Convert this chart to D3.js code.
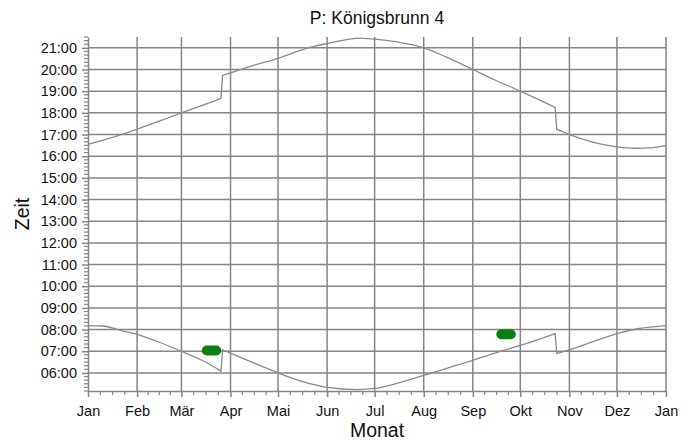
<!DOCTYPE html>
<html>
<head>
<meta charset="utf-8">
<script src="https://cdn.jsdelivr.net/npm/d3@7"></script>
<style>
  body { margin: 0; background: #fff; }
  svg { display: block; font-family: "Liberation Sans", Arial, sans-serif; }
</style>
</head>
<body>
<div id="chart"></div>
<script>
// sunset (upper curve)
const sunsetDates = ["2023-01-01","2023-01-22","2023-02-01","2023-02-15","2023-03-01","2023-03-15","2023-03-26",
                     "2023-03-27","2023-04-01","2023-04-15","2023-05-01","2023-05-20","2023-06-01","2023-06-22",
                     "2023-07-01","2023-07-16","2023-08-01","2023-08-15","2023-09-01","2023-09-15","2023-10-01",
                     "2023-10-23","2023-10-24","2023-11-01","2023-11-15","2023-12-01","2023-12-12","2023-12-22",
                     "2024-01-01"];
const sunsetTimes = ["16:33","17:00","17:15","17:37","18:00","18:22","18:40",
                     "19:44","19:51","20:11","20:31","21:00","21:12","21:27",
                     "21:24","21:16","21:00","20:35","20:00","19:31","19:00",
                     "18:15","17:14","17:00","16:40","16:26","16:22","16:23",
                     "16:29"];

// sunrise (lower curve)
const sunriseDates = ["2023-01-01","2023-01-10","2023-01-23","2023-02-01","2023-02-15","2023-03-01","2023-03-15",
                      "2023-03-26","2023-03-27","2023-04-01","2023-04-15","2023-05-01","2023-05-15","2023-06-01",
                      "2023-06-20","2023-07-01","2023-07-15","2023-08-01","2023-08-15","2023-09-01","2023-09-15",
                      "2023-10-01","2023-10-23","2023-10-24","2023-11-01","2023-11-15","2023-12-01","2023-12-15",
                      "2024-01-01"];
const sunriseTimes = ["08:11","08:10","07:56","07:47","07:25","07:00","06:33",
                      "06:05","07:04","06:55","06:29","06:00","05:38","05:20",
                      "05:14","05:17","05:31","05:53","06:12","06:35","06:55",
                      "07:16","07:49","06:54","07:04","07:25","07:49","08:03",
                      "08:11"];

// clock change days (curve jumps here)
const dstSwitch = ["2023-03-27","2023-10-24"];

// green shadow periods
const shadowStart = ["2023-03-17","2023-09-19"];
const shadowEnd   = ["2023-03-23","2023-09-25"];
const shadowTime  = ["07:02","07:47"];

const monthLabels = ["Jan","Feb","Mär","Apr","Mai","Jun","Jul","Aug","Sep","Okt","Nov","Dez","Jan"];
const hourTicks = d3.range(6, 22);

const width = 695, height = 441;
const mLeft = 88, mRight = 666, mTop = 37, mBottom = 391;

const parseDate = d3.timeParse("%Y-%m-%d");
const toHours = s => { const [h, m] = s.split(":").map(Number); return h + m / 60; };

const x = d3.scaleTime()
    .domain([parseDate("2023-01-01"), parseDate("2024-01-01")])
    .range([mLeft, mRight]);
const y = d3.scaleLinear()
    .domain([5 + 10 / 60, 21.5])
    .range([mBottom, mTop]);

const svg = d3.select("#chart").append("svg")
    .attr("width", width)
    .attr("height", height);

const gridColor = "#858585";
const months = d3.timeMonth.range(x.domain()[0], d3.timeDay.offset(x.domain()[1], 1));

// grid
svg.append("g").selectAll("line")
    .data(hourTicks)
    .enter().append("line")
    .attr("x1", mLeft).attr("x2", mRight)
    .attr("y1", d => y(d)).attr("y2", d => y(d))
    .attr("stroke", gridColor).attr("stroke-width", 1.5);

svg.append("g").selectAll("line")
    .data(months.slice(1))
    .enter().append("line")
    .attr("x1", d => x(d)).attr("x2", d => x(d))
    .attr("y1", mTop).attr("y2", mBottom)
    .attr("stroke", gridColor).attr("stroke-width", 1.5);

// minor ticks
const minorX = [];
months.slice(0, 12).forEach((m, i) => {
    const t0 = +m, t1 = +months[i + 1];
    [0.25, 0.5, 0.75].forEach(f => minorX.push(new Date(t0 + (t1 - t0) * f)));
});
svg.append("g").selectAll("line")
    .data(minorX)
    .enter().append("line")
    .attr("x1", d => x(d)).attr("x2", d => x(d))
    .attr("y1", mBottom).attr("y2", mBottom + 4)
    .attr("stroke", gridColor).attr("stroke-width", 1.2);

const minorY = d3.range(5 + 10 / 60, 21.5 + 0.01, 1 / 6).filter(v => Math.abs(v - Math.round(v)) > 0.01);
svg.append("g").selectAll("line")
    .data(minorY)
    .enter().append("line")
    .attr("x1", mLeft - 4).attr("x2", mLeft)
    .attr("y1", d => y(d)).attr("y2", d => y(d))
    .attr("stroke", gridColor).attr("stroke-width", 1.2);

// axes
const xAxis = svg.append("g")
    .attr("transform", `translate(0,${mBottom})`)
    .call(d3.axisBottom(x).tickValues(months).tickSize(6).tickSizeOuter(0)
        .tickFormat((d, i) => monthLabels[i]));
const yAxis = svg.append("g")
    .attr("transform", `translate(${mLeft},0)`)
    .call(d3.axisLeft(y).tickValues(hourTicks).tickSize(6).tickSizeOuter(0)
        .tickFormat(d => d3.format("02")(d) + ":00"));

[xAxis, yAxis].forEach(g => {
    g.select(".domain").attr("stroke", gridColor).attr("stroke-width", 1.5);
    g.selectAll(".tick line").attr("stroke", gridColor).attr("stroke-width", 1.5);
    g.selectAll("text").attr("fill", "#111").attr("font-size", 14.5)
        .attr("font-family", "'Liberation Sans', Arial, sans-serif");
});
xAxis.selectAll("text").attr("dy", null).attr("y", 25);
yAxis.selectAll("text").attr("x", -11);

// curves: smooth between clock changes, straight jump at the switch
const line = d3.line()
    .x(d => x(d.date))
    .y(d => y(d.time))
    .curve(d3.curveMonotoneX);

const switches = dstSwitch.map(parseDate);
function curvePath(dates, times) {
    const pts = dates.map((d, i) => ({ date: parseDate(d), time: toHours(times[i]) }));
    const segs = [[]];
    pts.forEach(p => {
        if (switches.some(s => +s === +p.date)) segs.push([]);
        segs[segs.length - 1].push(p);
    });
    return segs.map((s, i) => i ? line(s).replace(/^M/, "L") : line(s)).join("");
}

svg.append("g").selectAll("path")
    .data([[sunsetDates, sunsetTimes], [sunriseDates, sunriseTimes]])
    .enter().append("path")
    .attr("d", d => curvePath(d[0], d[1]))
    .attr("fill", "none")
    .attr("stroke", "#8a8a8a")
    .attr("stroke-width", 1.3);

// shadow marks
svg.append("g").selectAll("line")
    .data(shadowStart.map((d, i) => ({ a: parseDate(d), b: parseDate(shadowEnd[i]), t: toHours(shadowTime[i]) })))
    .enter().append("line")
    .attr("x1", d => x(d.a)).attr("x2", d => x(d.b))
    .attr("y1", d => y(d.t)).attr("y2", d => y(d.t))
    .attr("stroke", "#0d7f12")
    .attr("stroke-width", 10)
    .attr("stroke-linecap", "round");

// titles
svg.append("text")
    .attr("x", (mLeft + mRight) / 2).attr("y", 24)
    .attr("text-anchor", "middle")
    .attr("font-size", 17.5)
    .attr("fill", "#111")
    .text("P: Königsbrunn 4");

svg.append("text")
    .attr("x", (mLeft + mRight) / 2).attr("y", 437)
    .attr("text-anchor", "middle")
    .attr("font-size", 19.5)
    .attr("fill", "#111")
    .text("Monat");

svg.append("text")
    .attr("transform", `translate(29,${(mTop + mBottom) / 2}) rotate(-90)`)
    .attr("text-anchor", "middle")
    .attr("font-size", 19.5)
    .attr("fill", "#111")
    .text("Zeit");
</script>
</body>
</html>
